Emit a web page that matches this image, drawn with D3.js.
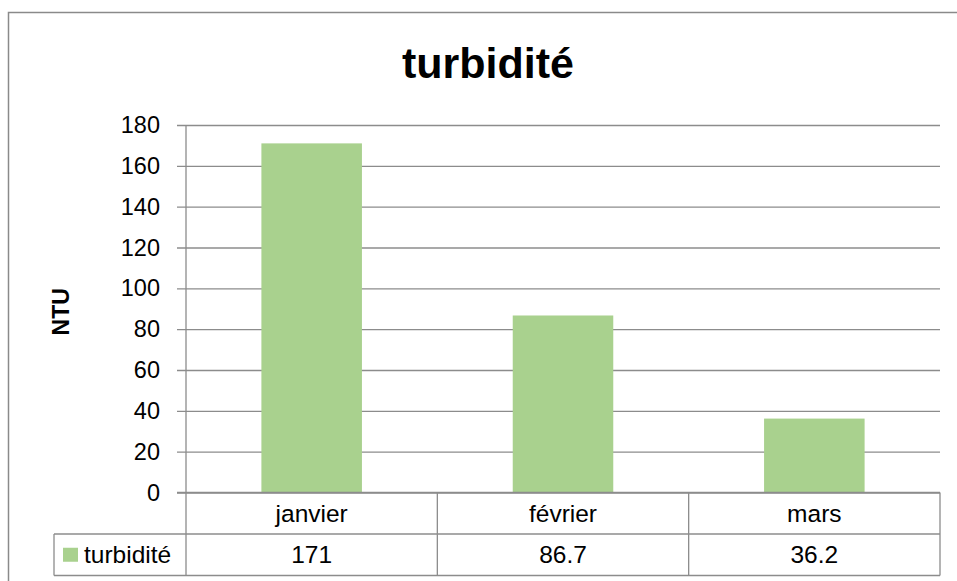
<!DOCTYPE html>
<html>
<head>
<meta charset="utf-8">
<script src="https://cdn.jsdelivr.net/npm/d3@7"></script>
<style>
  body { margin: 0; background: #fff; }
  svg text { font-family: "Liberation Sans", Arial, sans-serif; fill: #000; }
</style>
</head>
<body>
<div id="chart"></div>
<script>
// data
var categories = ["janvier", "février", "mars"];
var values = [171, 86.7, 36.2];
var valueLabels = ["171", "86.7", "36.2"];
var yTicks = [0, 20, 40, 60, 80, 100, 120, 140, 160, 180];
var seriesName = "turbidité";
var chartTitle = "turbidité";
var yTitle = "NTU";

var width = 957, height = 581;
var plotLeft = 186, plotRight = 940, plotTop = 125, plotBottom = 492.5;
var rowH = 41.5;
var gridColor = "#8c8c8c";

var svg = d3.select("#chart").append("svg")
    .attr("width", width)
    .attr("height", height);

// outer chart frame (runs off the page right and bottom)
svg.append("rect")
    .attr("x", 8.5).attr("y", 12.5)
    .attr("width", 980).attr("height", 600)
    .attr("fill", "none")
    .attr("stroke", "#8a8a8a")
    .attr("stroke-width", 1.5);

let x = d3.scaleBand()
    .domain(categories)
    .range([plotLeft, plotRight])
    .padding(0);

let y = d3.scaleLinear()
    .domain([0, 180])
    .range([plotBottom, plotTop]);

// gridlines + left ticks
let yAxis = d3.axisLeft(y)
    .tickValues(yTicks)
    .tickSize(-(plotRight - plotLeft))
    .tickSizeOuter(0)
    .tickPadding(26);

let gy = svg.append("g")
    .attr("transform", `translate(${plotLeft},0)`)
    .call(yAxis);
gy.select(".domain").remove();
gy.selectAll(".tick line")
    .attr("x1", -9)
    .attr("stroke", gridColor)
    .attr("stroke-width", 1.3);
gy.selectAll(".tick text")
    .style("font-size", "23.5px");

// vertical axis line
svg.append("line")
    .attr("x1", plotLeft).attr("x2", plotLeft)
    .attr("y1", plotTop).attr("y2", plotBottom)
    .attr("stroke", gridColor).attr("stroke-width", 1.3);

// bars, 40% of the band, centred
let barW = x.bandwidth() * 0.4;
svg.selectAll(".bar")
    .data(values)
    .enter().append("rect")
    .attr("class", "bar")
    .attr("x", (d, i) => x(categories[i]) + (x.bandwidth() - barW) / 2)
    .attr("y", d => y(d))
    .attr("width", barW)
    .attr("height", d => y(0) - y(d))
    .attr("fill", "#a9d18e");

// baseline
svg.append("line")
    .attr("x1", plotLeft - 9).attr("x2", plotRight)
    .attr("y1", y(0)).attr("y2", y(0))
    .attr("stroke", gridColor).attr("stroke-width", 1.5);

// data table
let tableBottom = plotBottom + rowH * 2;
let legendLeft = 54;
let tbl = svg.append("g").attr("stroke", gridColor).attr("stroke-width", 1.3);

// vertical separators
[plotLeft].concat(categories.map(c => x(c) + x.bandwidth())).forEach(xx => {
    tbl.append("line")
        .attr("x1", xx).attr("x2", xx)
        .attr("y1", plotBottom).attr("y2", tableBottom);
});
tbl.append("line")
    .attr("x1", legendLeft).attr("x2", legendLeft)
    .attr("y1", plotBottom + rowH).attr("y2", tableBottom);
tbl.append("line")
    .attr("x1", legendLeft).attr("x2", plotRight)
    .attr("y1", plotBottom + rowH).attr("y2", plotBottom + rowH);
tbl.append("line")
    .attr("x1", legendLeft).attr("x2", plotRight)
    .attr("y1", tableBottom).attr("y2", tableBottom);

// category labels
svg.selectAll(".cat")
    .data(categories)
    .enter().append("text")
    .attr("class", "cat")
    .attr("x", d => x(d) + x.bandwidth() / 2)
    .attr("y", plotBottom + rowH / 2)
    .attr("dy", "0.35em")
    .attr("text-anchor", "middle")
    .style("font-size", "24.5px")
    .text(d => d);

// value labels
svg.selectAll(".val")
    .data(valueLabels)
    .enter().append("text")
    .attr("class", "val")
    .attr("x", (d, i) => x(categories[i]) + x.bandwidth() / 2)
    .attr("y", plotBottom + rowH * 1.5)
    .attr("dy", "0.35em")
    .attr("text-anchor", "middle")
    .style("font-size", "24.5px")
    .text(d => d);

// legend key in the table
svg.append("rect")
    .attr("x", 63).attr("y", plotBottom + rowH * 1.5 - 7)
    .attr("width", 15).attr("height", 14)
    .attr("fill", "#a9d18e");
svg.append("text")
    .attr("x", 84)
    .attr("y", plotBottom + rowH * 1.5)
    .attr("dy", "0.35em")
    .style("font-size", "24.5px")
    .text(seriesName);

// title
svg.append("text")
    .attr("x", 488)
    .attr("y", 78)
    .attr("text-anchor", "middle")
    .style("font-size", "43px")
    .style("font-weight", "bold")
    .text(chartTitle);

// y axis title
svg.append("text")
    .attr("transform", `translate(69,${(plotTop + plotBottom) / 2 + 3}) rotate(-90)`)
    .attr("text-anchor", "middle")
    .style("font-size", "23px")
    .style("font-weight", "bold")
    .text(yTitle);
</script>
</body>
</html>
